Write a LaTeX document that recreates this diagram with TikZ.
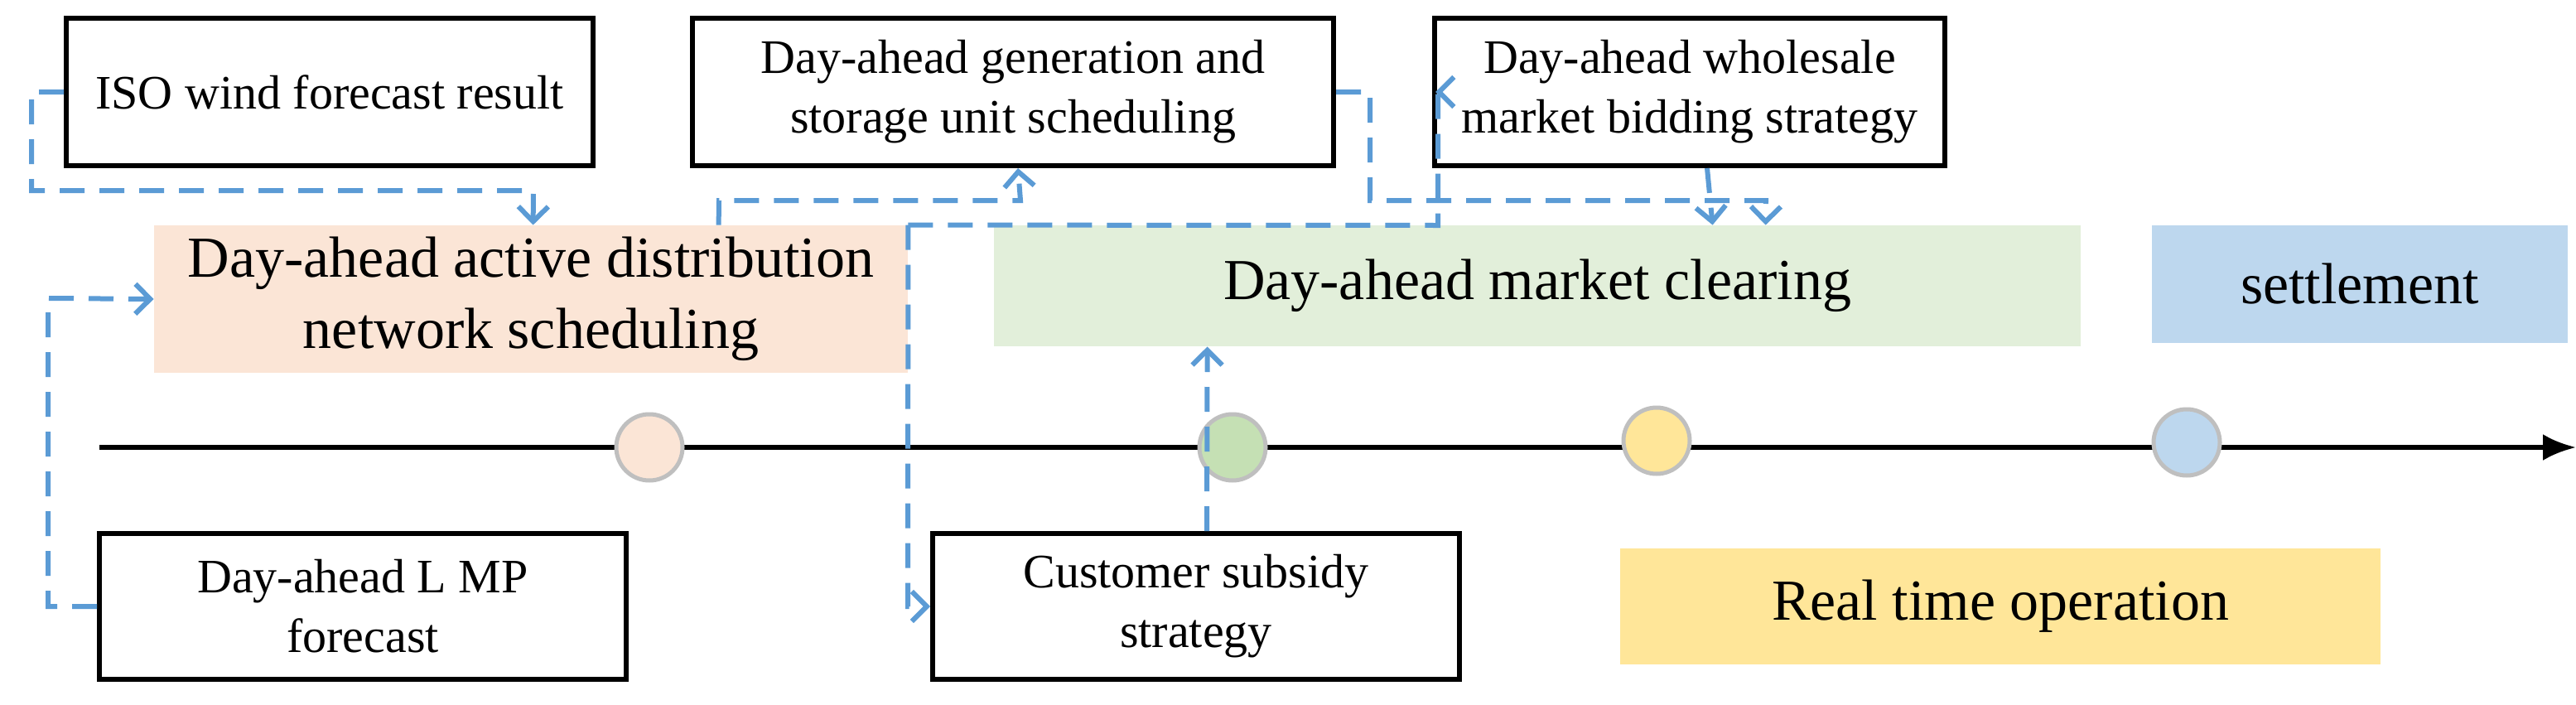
\documentclass[tikz,border=0pt]{standalone}
\usepackage{fontspec}
\setmainfont{Liberation Serif}
\usetikzlibrary{arrows.meta,calc}
\definecolor{cb}{HTML}{5B9BD5}
\definecolor{fo}{HTML}{FBE5D6}
\definecolor{fg}{HTML}{E2EFDA}
\definecolor{fb}{HTML}{BDD7EE}
\definecolor{fy}{HTML}{FFE699}
\definecolor{cg}{HTML}{C5E0B4}
\begin{document}
\begin{tikzpicture}[x=1pt,y=-1pt,
  box/.style={draw=black,line width=3pt,align=center,font=\fontsize{29}{36}\selectfont,inner sep=0pt},
  band/.style={align=center,font=\fontsize{35}{43}\selectfont,inner sep=0pt},
  dl/.style={draw=cb,line width=3pt,dash pattern=on 15pt off 9pt,-{Straight Barb[length=9pt,width=18pt,line width=3pt]}},
  dot/.style={circle,draw=black!25,line width=2.5pt,minimum size=40pt,inner sep=0pt}]
\useasboundingbox (0,0) rectangle (1555,425.5);
% boxes
\node[box,minimum width=318pt,minimum height=89pt] (iso) at (199,55.5) {ISO wind forecast result};
\node[box,minimum width=387pt,minimum height=89pt] (gen) at (611.5,55.5) {Day-ahead generation and\\storage unit scheduling};
\node[box,minimum width=308pt,minimum height=89pt] (whs) at (1020,55.5) {Day-ahead wholesale\\market bidding strategy};
\node[box,minimum width=318pt,minimum height=88pt] (lmp) at (219,366) {Day-ahead L MP\\forecast};
\node[box,minimum width=318pt,minimum height=88pt] (cus) at (722,366) {Customer subsidy\\strategy};
% bands
\node[band,fill=fo,minimum width=455pt,minimum height=89pt] (adn) at (320.5,180.5) {Day-ahead active distribution\\network scheduling};
\node[band,fill=fg,minimum width=656pt,minimum height=73pt] (mc) at (928,172.5) {Day-ahead market clearing};
\node[band,fill=fb,minimum width=251pt,minimum height=71pt] (set) at (1424.5,171.5) {settlement};
\node[band,fill=fy,minimum width=459pt,minimum height=70pt] (rt) at (1207.5,366) {Real time operation};
% timeline
\coordinate (t0) at (60,270);
\coordinate (t1) at (1555,270);
\draw[line width=3pt,-{Latex[length=20pt,width=16pt]}] (t0) -- (t1);
\node[dot,fill=fo] (c1) at (392,270) {};
\node[dot,fill=cg] (c2) at (744,270) {};
\node[dot,fill=fy] (c3) at (1000,266) {};
\node[dot,fill=fb] (c4) at (1320,267) {};
% connectors
\draw[dl] (iso.west) -- (19,55.5) -- (19,115) -- (322,115) -- ($(adn.north west)+(229,0)$);
\draw[dl] (lmp.west) -- (29,366) -- (29,180) -- (adn.west);
\draw[dl] ($(adn.north west)+(341,0)$) -- (434,121) -- (616,121) -- ($(gen.south west)+(198,0)$);
\draw[dl] (adn.north east) -- (548,366) -- (cus.west);
\draw[dl] (adn.north east) -- (868,136) -- (868,55.5) -- ($(whs.west)+(2,0)$);
\draw[dl] (gen.east) -- (827,55.5) -- (827,121) -- (1066,121) -- ($(mc.north west)+(466,0)$);
\draw[dl] ($(whs.south west)+(166,0)$) -- ($(mc.north west)+(434,0)$);
\draw[dl] ($(cus.north west)+(167,0)$) -- ($(mc.south west)+(129,0)$);
\end{tikzpicture}
\end{document}
